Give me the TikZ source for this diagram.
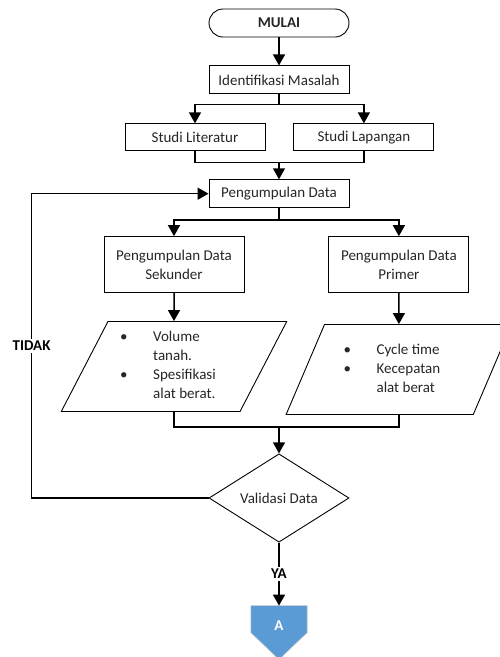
\documentclass[tikz,border=0pt]{standalone}
\usepackage{fontspec}
\setmainfont{Carlito}
\usetikzlibrary{shapes.geometric, arrows.meta, positioning, calc, backgrounds}
\definecolor{konblue}{RGB}{91,155,213}
\definecolor{tinta}{RGB}{38,38,38}

\begin{document}
\begin{tikzpicture}[
      x=1pt, y=1pt,
      node distance=28pt,
      font=\fontsize{15}{19}\selectfont,
      box/.style={rectangle, draw=black, line width=0.9pt, text=tinta,
                  minimum width=140pt, minimum height=28pt, inner sep=2pt, align=center},
      term/.style={box, rounded corners=14pt, font=\fontsize{15}{19}\selectfont\bfseries},
      para/.style={trapezium, trapezium left angle=63.4, trapezium right angle=116.6,
                   trapezium stretches=true, draw=black, line width=0.9pt, text=tinta,
                   minimum width=226pt, minimum height=90pt, inner sep=0pt},
      keputusan/.style={diamond, draw=black, line width=0.9pt, text=tinta,
                        minimum width=140pt, minimum height=83pt, inner sep=0pt},
      konektor/.style={rectangle, text=white, font=\fontsize{15}{19}\selectfont\bfseries,
                       minimum width=56pt, minimum height=40pt, inner sep=0pt},
      lbl/.style={fill=white, text=black, font=\fontsize{15}{19}\selectfont\bfseries, inner sep=2pt},
      garis/.style={line width=1.5pt, draw=black},
      arr/.style={garis, -{Triangle[width=12pt,length=11pt]}}
    ]
    \useasboundingbox (0,0) rectangle (499,-657);
    \node[term] (mulai) at (279,-23) {MULAI};
    \node[box, below=28pt of mulai] (idm) {Identifikasi Masalah};
    \node[box, minimum height=27pt, below=29pt of idm, xshift=-84pt] (lit) {Studi Literatur};
    \node[box, minimum height=27pt, right=28pt of lit] (lap) {Studi Lapangan};
    \node[box, below=28pt of lit, xshift=84pt] (pd) {Pengumpulan Data};
    \node[box, minimum height=56pt, below=28pt of pd, xshift=-105pt] (sek) {Pengumpulan Data\\Sekunder};
    \node[box, minimum height=56pt, right=84pt of sek] (pri) {Pengumpulan Data\\Primer};
    \node[para, below=28pt of sek] (dsek) {\begin{tabular}{@{}p{33pt}@{}l@{}}
        \textbullet & Volume\\ & tanah.\\ \textbullet & Spesifikasi\\ & alat berat.
      \end{tabular}\kern12pt};
    \node[para, below=31pt of pri] (dpri) {\begin{tabular}{@{}p{33pt}@{}l@{}}
        \textbullet & Cycle time\\ \textbullet & Kecepatan\\ & alat berat
      \end{tabular}\kern14pt};
    \node[keputusan] (val) at (279,-498) {Validasi Data};
    \node[konektor, below=63pt of val] (kon) {A};
    % penghubung halaman (segi lima)
    \begin{scope}[on background layer]
      \filldraw[fill=konblue, draw=black!20, line width=0.6pt]
        (kon.north west) -- (kon.north east) -- ($(kon.north east)+(0,-27)$)
        -- ($(kon.north)+(0,-54)$) -- ($(kon.north west)+(0,-27)$) -- cycle;
    \end{scope}

    \draw[arr] (mulai) -- (idm);
    \coordinate (bagi1) at ($(idm.south)+(0,-10)$);
    \draw[garis] (idm.south) -- (bagi1);
    \draw[arr] (bagi1) -| (lit.north);
    \draw[arr] (bagi1) -| (lap.north);
    \coordinate (gabung1) at ($(pd.north)+(0,17)$);
    \draw[garis] (lit.south) |- (gabung1) -| (lap.south);
    \draw[arr] (gabung1) -- (pd.north);
    \coordinate (bagi2) at ($(pd.south)+(0,-12)$);
    \draw[garis] (pd.south) -- (bagi2);
    \draw[arr] (bagi2) -| (sek.north);
    \draw[arr] (bagi2) -| (pri.north);
    \draw[arr] (sek) -- (dsek);
    \draw[arr] (pri) -- (dpri);
    \coordinate (gabung2) at (279,-427);
    \draw[garis] (dsek.south) |- (gabung2) -| (dpri.south);
    \draw[arr] (gabung2) -- (val.north);
    \draw[arr] (val) -- node[lbl] {YA} (kon);
    \coordinate (balik) at ($(val.west)+(-177,0)$);
    \draw[arr] (val.west) -- (balik) |- node[lbl, pos=0.25] {TIDAK} (pd.west);
\end{tikzpicture}
\end{document}
